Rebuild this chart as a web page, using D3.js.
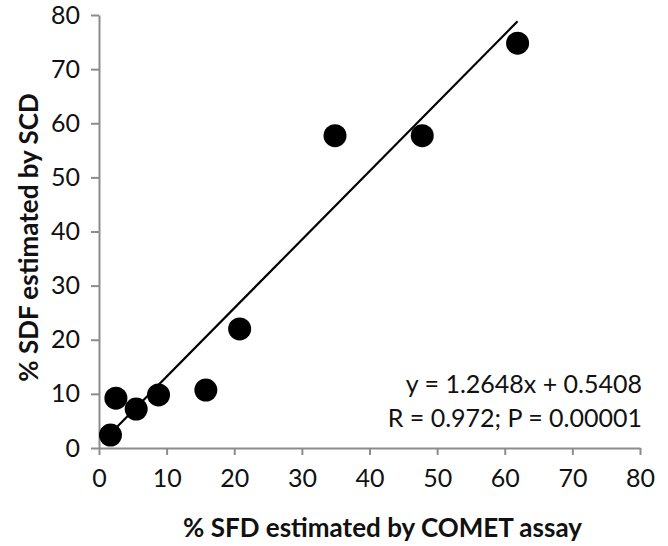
<!DOCTYPE html>
<html>
<head>
<meta charset="utf-8">
<script src="https://cdn.jsdelivr.net/npm/d3@7"></script>
<style>
  html, body { margin: 0; padding: 0; background: #fff; }
  svg { display: block; }
</style>
</head>
<body>
<svg id="chart" width="668" height="546"></svg>
<script>
// Data
const xComet = [1.7, 2.5, 5.5, 8.8, 15.8, 20.8, 34.9, 47.8, 61.9];
const ySCD   = [2.4, 9.2, 7.2, 9.8, 10.7, 22.0, 57.7, 57.7, 74.8];
const xTicks = [0, 10, 20, 30, 40, 50, 60, 70, 80];
const yTicks = [0, 10, 20, 30, 40, 50, 60, 70, 80];
const slope = 1.2648;
const intercept = 0.5408;
const eqLines = ["y = 1.2648x + 0.5408", "R = 0.972; P = 0.00001"];
const xTitle = "% SFD estimated by COMET assay";
const yTitle = "% SDF estimated by SCD";

const svg = d3.select("#chart");
const font = "Lato, 'Open Sans', sans-serif";
const axisColor = "#8c8c8c";

const x = d3.scaleLinear().domain([0, 80]).range([99, 640]);
const y = d3.scaleLinear().domain([0, 80]).range([448, 15]);

// Axes
const xAxis = svg.append("g").attr("transform", `translate(0,${y(0)})`)
  .call(d3.axisBottom(x).tickValues(xTicks).tickSize(7).tickPadding(14).tickSizeOuter(0));
const yAxis = svg.append("g").attr("transform", `translate(${x(0)},0)`)
  .call(d3.axisLeft(y).tickValues(yTicks).tickSize(8).tickPadding(11).tickSizeOuter(0));

[xAxis, yAxis].forEach(g => {
  g.select(".domain").attr("stroke", axisColor).attr("stroke-width", 2);
  g.selectAll(".tick line").attr("stroke", axisColor).attr("stroke-width", 2);
  g.selectAll(".tick text").attr("fill", "#111").attr("font-family", font).attr("font-size", 25);
});

// Trendline
const xMin = d3.min(xComet), xMax = d3.max(xComet);
svg.append("line")
  .attr("x1", x(xMin)).attr("y1", y(slope * xMin + intercept))
  .attr("x2", x(xMax)).attr("y2", y(slope * xMax + intercept))
  .attr("stroke", "#000").attr("stroke-width", 2.2);

// Points
svg.append("g").selectAll("circle")
  .data(xComet.map((d, i) => [d, ySCD[i]]))
  .join("circle")
  .attr("cx", d => x(d[0])).attr("cy", d => y(d[1]))
  .attr("r", 11.5).attr("fill", "#000");

// Equation text
svg.append("g").selectAll("text").data(eqLines).join("text")
  .attr("x", 642).attr("y", (d, i) => 393 + i * 34)
  .attr("text-anchor", "end")
  .attr("font-family", font).attr("font-size", 25).attr("fill", "#111")
  .text(d => d);

// Axis titles
svg.append("text")
  .attr("x", (x(0) + x(80)) / 2 + 13).attr("y", 537)
  .attr("text-anchor", "middle")
  .attr("font-family", font).attr("font-weight", "bold").attr("font-size", 26).attr("fill", "#111")
  .text(xTitle);

svg.append("text")
  .attr("transform", `translate(38,${(y(0) + y(80)) / 2 + 6}) rotate(-90)`)
  .attr("text-anchor", "middle")
  .attr("font-family", font).attr("font-weight", "bold").attr("font-size", 26).attr("fill", "#111")
  .text(yTitle);
</script>
</body>
</html>
